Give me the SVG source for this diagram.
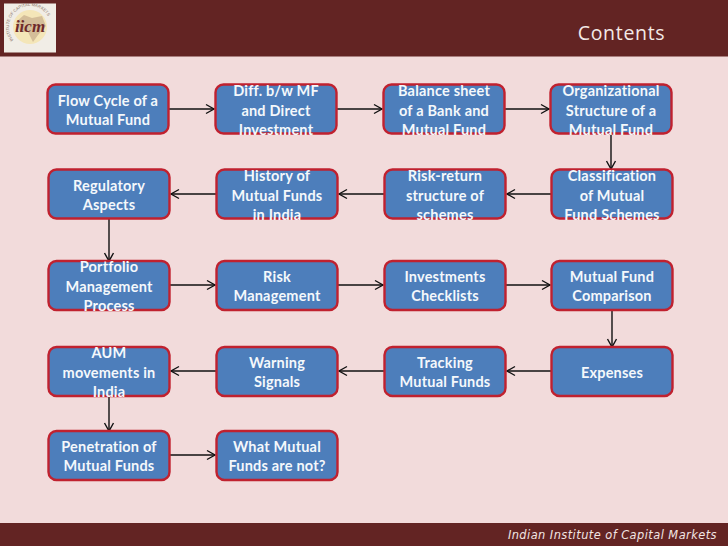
<svg xmlns="http://www.w3.org/2000/svg" width="728" height="546" viewBox="0 0 728 546">
<style>
.n rect{fill:#4d7ebb;stroke:#c0212f;stroke-width:2.4}
.n text{font:bold 14.5px Lato,"Liberation Sans",sans-serif;fill:#f4f8fb;text-anchor:middle;letter-spacing:.2px}
#connectors path{fill:none;stroke:#111;stroke-width:1.4;marker-end:url(#a)}
</style>
<defs>
<marker id="a" markerUnits="userSpaceOnUse" markerWidth="12" markerHeight="12" refX="9" refY="6" orient="auto"><path d="M1 1.500L9 6L1 10.500" fill="none" stroke="#111" stroke-width="1.4"/></marker>
<path id="ring" d="M13.500 40A21 21 0 1 1 46.500 40"/>
</defs>
<rect width="728" height="546" fill="#f2dbdb"/>
<rect width="728" height="56.500" fill="#632423"/>
<rect y="523" width="728" height="23" fill="#632423"/>
<g id="logo">
<rect x="4" y="3.500" width="52" height="49" fill="#f1ede6"/>
<circle cx="30" cy="27" r="17" fill="#f4e6b8"/>
<path d="M16 22L24 15L32 18L42 16L46 26L38 35L33 42L28 32L20 32Z" fill="#c9b08f" opacity=".75"/>
<text font-family="Liberation Sans,sans-serif" font-size="4.200" fill="#8a7468"><textPath href="#ring">INSTITUTE OF CAPITAL MARKETS</textPath></text>
<text x="30" y="32" font-family="Liberation Serif,serif" font-size="17" font-weight="bold" font-style="italic" fill="#6e2a2a" text-anchor="middle">iicm</text>
</g>
<text x="621.500" y="39.500" font-family="Open Sans,sans-serif" font-size="19.500" fill="#f3e9e6" text-anchor="middle" letter-spacing=".7">Contents</text>
<text x="717" y="538.500" font-family="DejaVu Sans,sans-serif" font-size="11.400" font-style="italic" fill="#f2e6e4" text-anchor="end" letter-spacing=".45">Indian Institute of Capital Markets</text>
<g id="connectors">
<path d="M169 109H214"/><path d="M337 109H382"/><path d="M505 109H549"/>
<path d="M611 134V169"/>
<path d="M551 194H507"/><path d="M384 194H339"/><path d="M216 194H171"/>
<path d="M109 219V261"/>
<path d="M170 285H215"/><path d="M338 285H383"/><path d="M506 285H550"/>
<path d="M612 310V347"/>
<path d="M551 371H507"/><path d="M384 371H339"/><path d="M216 371H171"/>
<path d="M109 396V431"/>
<path d="M170 455H215"/>
</g>
<g id="n1" class="n"><rect x="47.500" y="84.500" width="121" height="49" rx="8"/><text x="108" y="106">Flow Cycle of a</text><text x="108" y="125">Mutual Fund</text></g>
<g id="n2" class="n"><rect x="215.500" y="84.500" width="121" height="49" rx="8"/><text x="276" y="96">Diff. b/w MF</text><text x="276" y="116">and Direct</text><text x="276" y="135">Investment</text></g>
<g id="n3" class="n"><rect x="383.500" y="84.500" width="121" height="49" rx="8"/><text x="444" y="96">Balance sheet</text><text x="444" y="116">of a Bank and</text><text x="444" y="135">Mutual Fund</text></g>
<g id="n4" class="n"><rect x="550.500" y="84.500" width="121" height="49" rx="8"/><text x="611" y="96">Organizational</text><text x="611" y="116">Structure of a</text><text x="611" y="135">Mutual Fund</text></g>
<g id="n5" class="n"><rect x="48.500" y="169.500" width="121" height="49" rx="8"/><text x="109" y="191">Regulatory</text><text x="109" y="210">Aspects</text></g>
<g id="n6" class="n"><rect x="216.500" y="169.500" width="121" height="49" rx="8"/><text x="277" y="181">History of</text><text x="277" y="201">Mutual Funds</text><text x="277" y="220">in India</text></g>
<g id="n7" class="n"><rect x="384.500" y="169.500" width="121" height="49" rx="8"/><text x="445" y="181">Risk-return</text><text x="445" y="201">structure of</text><text x="445" y="220">schemes</text></g>
<g id="n8" class="n"><rect x="551.500" y="169.500" width="121" height="49" rx="8"/><text x="612" y="181">Classification</text><text x="612" y="201">of Mutual</text><text x="612" y="220">Fund Schemes</text></g>
<g id="n9" class="n"><rect x="48.500" y="261" width="121" height="49" rx="8"/><text x="109" y="272">Portfolio</text><text x="109" y="292">Management</text><text x="109" y="311">Process</text></g>
<g id="n10" class="n"><rect x="216.500" y="261" width="121" height="49" rx="8"/><text x="277" y="282">Risk</text><text x="277" y="301">Management</text></g>
<g id="n11" class="n"><rect x="384.500" y="261" width="121" height="49" rx="8"/><text x="445" y="282">Investments</text><text x="445" y="301">Checklists</text></g>
<g id="n12" class="n"><rect x="551.500" y="261" width="121" height="49" rx="8"/><text x="612" y="282">Mutual Fund</text><text x="612" y="301">Comparison</text></g>
<g id="n13" class="n"><rect x="48.500" y="347" width="121" height="49" rx="8"/><text x="109" y="358">AUM</text><text x="109" y="378">movements in</text><text x="109" y="397">India</text></g>
<g id="n14" class="n"><rect x="216.500" y="347" width="121" height="49" rx="8"/><text x="277" y="368">Warning</text><text x="277" y="387">Signals</text></g>
<g id="n15" class="n"><rect x="384.500" y="347" width="121" height="49" rx="8"/><text x="445" y="368">Tracking</text><text x="445" y="387">Mutual Funds</text></g>
<g id="n16" class="n"><rect x="551.500" y="347" width="121" height="49" rx="8"/><text x="612" y="378">Expenses</text></g>
<g id="n17" class="n"><rect x="48.500" y="431" width="121" height="49" rx="8"/><text x="109" y="452">Penetration of</text><text x="109" y="471">Mutual Funds</text></g>
<g id="n18" class="n"><rect x="216.500" y="431" width="121" height="49" rx="8"/><text x="277" y="452">What Mutual</text><text x="277" y="471">Funds are not?</text></g>
</svg>
